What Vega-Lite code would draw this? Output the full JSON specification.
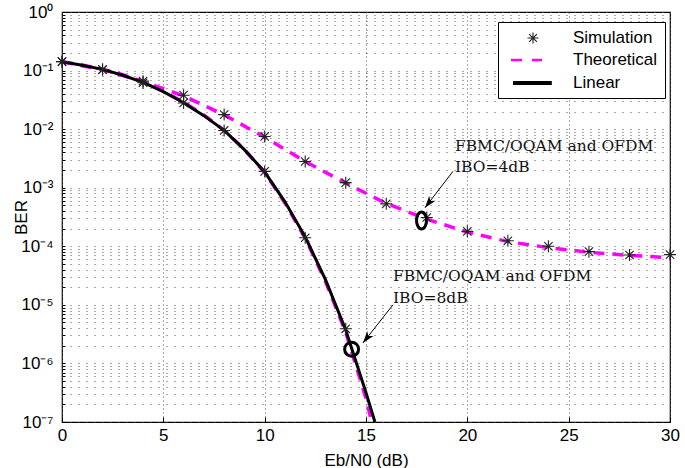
{
  "$schema": "https://vega.github.io/schema/vega-lite/v6.json",
  "width": 608,
  "height": 410,
  "autosize": {"type": "none"},
  "padding": {"left": 62, "top": 12, "right": 15, "bottom": 46},
  "background": "white",
  "config": {
    "view": {"stroke": "black", "strokeWidth": 1.2},
    "axis": {
      "labelFont": "Liberation Sans",
      "titleFont": "Liberation Sans",
      "labelFontSize": 17,
      "titleFontSize": 17,
      "titleFontWeight": "normal",
      "labelColor": "black",
      "titleColor": "black",
      "domain": false,
      "grid": true,
      "gridColor": "#555",
      "gridWidth": 1,
      "tickColor": "black",
      "tickSize": -5,
      "labelOverlap": false,
      "labelFlush": false
    }
  },
  "datasets": {
    "theory": [
      {"snr": 0, "ber": 0.1413, "curve": "IBO4"},
      {"snr": 2, "ber": 0.1035, "curve": "IBO4"},
      {"snr": 4, "ber": 0.065, "curve": "IBO4"},
      {"snr": 6, "ber": 0.037, "curve": "IBO4"},
      {"snr": 8, "ber": 0.0175, "curve": "IBO4"},
      {"snr": 10, "ber": 0.0073, "curve": "IBO4"},
      {"snr": 12, "ber": 0.0028, "curve": "IBO4"},
      {"snr": 14, "ber": 0.0012, "curve": "IBO4"},
      {"snr": 16, "ber": 0.00054, "curve": "IBO4"},
      {"snr": 18, "ber": 0.00029, "curve": "IBO4"},
      {"snr": 20, "ber": 0.000175, "curve": "IBO4"},
      {"snr": 22, "ber": 0.00012, "curve": "IBO4"},
      {"snr": 24, "ber": 0.000095, "curve": "IBO4"},
      {"snr": 26, "ber": 0.000079, "curve": "IBO4"},
      {"snr": 28, "ber": 0.00007, "curve": "IBO4"},
      {"snr": 30, "ber": 0.000064, "curve": "IBO4"},
      {"snr": 0, "ber": 0.1413, "curve": "IBO8"},
      {"snr": 1, "ber": 0.1245, "curve": "IBO8"},
      {"snr": 2, "ber": 0.1059, "curve": "IBO8"},
      {"snr": 3, "ber": 0.0851, "curve": "IBO8"},
      {"snr": 4, "ber": 0.0646, "curve": "IBO8"},
      {"snr": 5, "ber": 0.0447, "curve": "IBO8"},
      {"snr": 6, "ber": 0.0288, "curve": "IBO8"},
      {"snr": 7, "ber": 0.0174, "curve": "IBO8"},
      {"snr": 8, "ber": 0.00955, "curve": "IBO8"},
      {"snr": 9, "ber": 0.00447, "curve": "IBO8"},
      {"snr": 10, "ber": 0.00182, "curve": "IBO8"},
      {"snr": 11, "ber": 0.00055, "curve": "IBO8"},
      {"snr": 12, "ber": 0.000138, "curve": "IBO8"},
      {"snr": 13, "ber": 0.0000251, "curve": "IBO8"},
      {"snr": 14, "ber": 0.00000339, "curve": "IBO8"},
      {"snr": 15, "ber": 0.000000251, "curve": "IBO8"},
      {"snr": 15.28, "ber": 0.0000001, "curve": "IBO8"}
    ],
    "linear": [
      {"snr": 0, "ber": 0.1413},
      {"snr": 1, "ber": 0.123},
      {"snr": 2, "ber": 0.1047},
      {"snr": 3, "ber": 0.0832},
      {"snr": 4, "ber": 0.0631},
      {"snr": 5, "ber": 0.0437},
      {"snr": 6, "ber": 0.0282},
      {"snr": 7, "ber": 0.017},
      {"snr": 8, "ber": 0.00955},
      {"snr": 9, "ber": 0.00447},
      {"snr": 10, "ber": 0.00186},
      {"snr": 11, "ber": 0.000575},
      {"snr": 12, "ber": 0.000145},
      {"snr": 13, "ber": 0.0000269},
      {"snr": 14, "ber": 0.00000372},
      {"snr": 15, "ber": 0.000000316},
      {"snr": 15.44, "ber": 0.0000001}
    ],
    "sim": [
      {"snr": 0, "ber": 0.142, "ibo": "4dB"},
      {"snr": 2, "ber": 0.104, "ibo": "4dB"},
      {"snr": 4, "ber": 0.066, "ibo": "4dB"},
      {"snr": 6, "ber": 0.038, "ibo": "4dB"},
      {"snr": 8, "ber": 0.0177, "ibo": "4dB"},
      {"snr": 10, "ber": 0.0075, "ibo": "4dB"},
      {"snr": 12, "ber": 0.0028, "ibo": "4dB"},
      {"snr": 14, "ber": 0.00122, "ibo": "4dB"},
      {"snr": 16, "ber": 0.00053, "ibo": "4dB"},
      {"snr": 18, "ber": 0.00031, "ibo": "4dB"},
      {"snr": 20, "ber": 0.00018, "ibo": "4dB"},
      {"snr": 22, "ber": 0.000124, "ibo": "4dB"},
      {"snr": 24, "ber": 0.0001, "ibo": "4dB"},
      {"snr": 26, "ber": 0.000081, "ibo": "4dB"},
      {"snr": 28, "ber": 0.000071, "ibo": "4dB"},
      {"snr": 30, "ber": 0.000072, "ibo": "4dB"},
      {"snr": 0, "ber": 0.142, "ibo": "8dB"},
      {"snr": 2, "ber": 0.104, "ibo": "8dB"},
      {"snr": 4, "ber": 0.062, "ibo": "8dB"},
      {"snr": 6, "ber": 0.028, "ibo": "8dB"},
      {"snr": 8, "ber": 0.0095, "ibo": "8dB"},
      {"snr": 10, "ber": 0.0019, "ibo": "8dB"},
      {"snr": 12, "ber": 0.00014, "ibo": "8dB"},
      {"snr": 14, "ber": 0.0000039, "ibo": "8dB"}
    ],
    "arrows": [
      {"snr": 19.29, "ber": 0.0019, "snr2": 17.91, "ber2": 0.000455},
      {"snr": 16.33, "ber": 0.00001, "snr2": 14.85, "ber2": 0.00000224}
    ],
    "notes": [
      {"snr": 19.39, "ber": 0.0052, "label": "FBMC/OQAM and OFDM"},
      {"snr": 19.39, "ber": 0.00229, "label": "IBO=4dB"},
      {"snr": 16.33, "ber": 0.0000313, "label": "FBMC/OQAM and OFDM"},
      {"snr": 16.33, "ber": 0.0000132, "label": "IBO=8dB"}
    ],
    "legend": [
      {"series": "Simulation"},
      {"series": "Theoretical"},
      {"series": "Linear"}
    ]
  },
  "layer": [
    {
      "data": {"name": "theory"},
      "mark": {"type": "line", "color": "#ff00ff", "strokeWidth": 3.5, "strokeDash": [11, 8], "clip": true},
      "encoding": {
        "x": {
          "field": "snr", "type": "quantitative",
          "scale": {"type": "linear", "domain": [0, 30], "nice": false, "zero": false},
          "axis": {
            "title": "Eb/N0 (dB)",
            "values": [0, 5, 10, 15, 20, 25, 30],
            "gridDash": [1, 3],
            "labelPadding": 10,
            "titleY": 43,
            "titleBaseline": "alphabetic"
          }
        },
        "y": {
          "field": "ber", "type": "quantitative",
          "scale": {"type": "log", "domain": [0.0000001, 1], "nice": false},
          "axis": {
            "title": "BER",
            "values": [1e-7, 2e-7, 3e-7, 4e-7, 5e-7, 6e-7, 7e-7, 8e-7, 9e-7,
                       1e-6, 2e-6, 3e-6, 4e-6, 5e-6, 6e-6, 7e-6, 8e-6, 9e-6,
                       1e-5, 2e-5, 3e-5, 4e-5, 5e-5, 6e-5, 7e-5, 8e-5, 9e-5,
                       1e-4, 2e-4, 3e-4, 4e-4, 5e-4, 6e-4, 7e-4, 8e-4, 9e-4,
                       1e-3, 2e-3, 3e-3, 4e-3, 5e-3, 6e-3, 7e-3, 8e-3, 9e-3,
                       1e-2, 2e-2, 3e-2, 4e-2, 5e-2, 6e-2, 7e-2, 8e-2, 9e-2,
                       0.1, 0.2, 0.3, 0.4, 0.5, 0.6, 0.7, 0.8, 0.9, 1],
            "labelExpr": "abs(log(datum.value)/LN10 - round(log(datum.value)/LN10)) < 0.001 ? '10' + ['⁰','⁻¹','⁻²','⁻³','⁻⁴','⁻⁵','⁻⁶','⁻⁷'][-round(log(datum.value)/LN10)] : ''",
            "gridDash": [1, 7],
            "tickSize": -3,
            "labelPadding": 12,
            "titleX": -36,
            "titleY": 205,
            "titleBaseline": "alphabetic"
          }
        },
        "detail": {"field": "curve", "type": "nominal"}
      }
    },
    {
      "data": {"name": "linear"},
      "mark": {"type": "line", "color": "black", "strokeWidth": 3, "clip": true},
      "encoding": {
        "x": {"field": "snr", "type": "quantitative"},
        "y": {"field": "ber", "type": "quantitative"}
      }
    },
    {
      "data": {"name": "sim"},
      "mark": {"type": "point", "shape": "M-1,0H1M0,-1V1M-0.7,-0.7L0.7,0.7M-0.7,0.7L0.7,-0.7", "size": 144, "filled": false, "stroke": "#222", "strokeWidth": 1.1, "opacity": 1},
      "encoding": {
        "x": {"field": "snr", "type": "quantitative"},
        "y": {"field": "ber", "type": "quantitative"},
        "detail": {"field": "ibo", "type": "nominal"}
      }
    },
    {
      "data": {"values": [{"snr": 17.74, "ber": 0.000276}]},
      "mark": {"type": "point", "shape": "M0.5,0C0.5,0.469 0.276,0.85 0,0.85C-0.276,0.85 -0.5,0.469 -0.5,0C-0.5,-0.469 -0.276,-0.85 0,-0.85C0.276,-0.85 0.5,-0.469 0.5,0Z", "size": 400, "filled": false, "stroke": "black", "strokeWidth": 3, "opacity": 1},
      "encoding": {
        "x": {"field": "snr", "type": "quantitative"},
        "y": {"field": "ber", "type": "quantitative"}
      }
    },
    {
      "data": {"values": [{"snr": 14.29, "ber": 0.00000175}]},
      "mark": {"type": "point", "shape": "circle", "size": 196, "filled": false, "stroke": "black", "strokeWidth": 3, "opacity": 1},
      "encoding": {
        "x": {"field": "snr", "type": "quantitative"},
        "y": {"field": "ber", "type": "quantitative"}
      }
    },
    {
      "data": {"name": "arrows"},
      "mark": {"type": "rule", "color": "black", "strokeWidth": 1},
      "encoding": {
        "x": {"field": "snr", "type": "quantitative"},
        "y": {"field": "ber", "type": "quantitative"},
        "x2": {"field": "snr2"},
        "y2": {"field": "ber2"}
      }
    },
    {
      "data": {"name": "arrows"},
      "mark": {"type": "point", "shape": "M0,0L-0.33,1L0,0.72L0.33,1Z", "size": 576, "filled": true, "color": "black", "opacity": 1, "angle": 218},
      "encoding": {
        "x": {"field": "snr2", "type": "quantitative"},
        "y": {"field": "ber2", "type": "quantitative"}
      }
    },
    {
      "data": {"name": "notes"},
      "mark": {"type": "text", "align": "left", "baseline": "middle", "font": "DejaVu Serif", "fontSize": 15.5, "color": "#111"},
      "encoding": {
        "x": {"field": "snr", "type": "quantitative"},
        "y": {"field": "ber", "type": "quantitative"},
        "text": {"field": "label"}
      }
    },
    {
      "data": {"name": "legend"},
      "transform": [{"filter": "false"}],
      "mark": {"type": "point", "filled": false, "size": 256, "opacity": 1},
      "encoding": {
        "shape": {
          "field": "series", "type": "nominal",
          "scale": {
            "domain": ["Simulation", "Theoretical", "Linear"],
            "range": [
              "M1.56,0H2.94M2.25,-0.69V0.69M1.76,-0.49L2.74,0.49M1.76,0.49L2.74,-0.49",
              "M-0.5,0H0.875M2.125,0H3.375",
              "M-0.25,0H4.6"
            ]
          },
          "legend": {
            "title": null,
            "orient": "none",
            "legendX": 436,
            "legendY": 10,
            "padding": 7,
            "strokeColor": "black",
            "fillColor": "white",
            "labelFont": "Liberation Sans",
            "labelFontSize": 17,
            "labelColor": "black",
            "labelOffset": 48,
            "rowPadding": 4.5,
            "symbolSize": 256
          }
        },
        "stroke": {
          "field": "series", "type": "nominal",
          "scale": {"domain": ["Simulation", "Theoretical", "Linear"], "range": ["#222", "#ff00ff", "black"]}
        },
        "strokeWidth": {
          "field": "series", "type": "nominal",
          "scale": {"domain": ["Simulation", "Theoretical", "Linear"], "range": [1.1, 4, 3.2]}
        }
      }
    }
  ]
}
